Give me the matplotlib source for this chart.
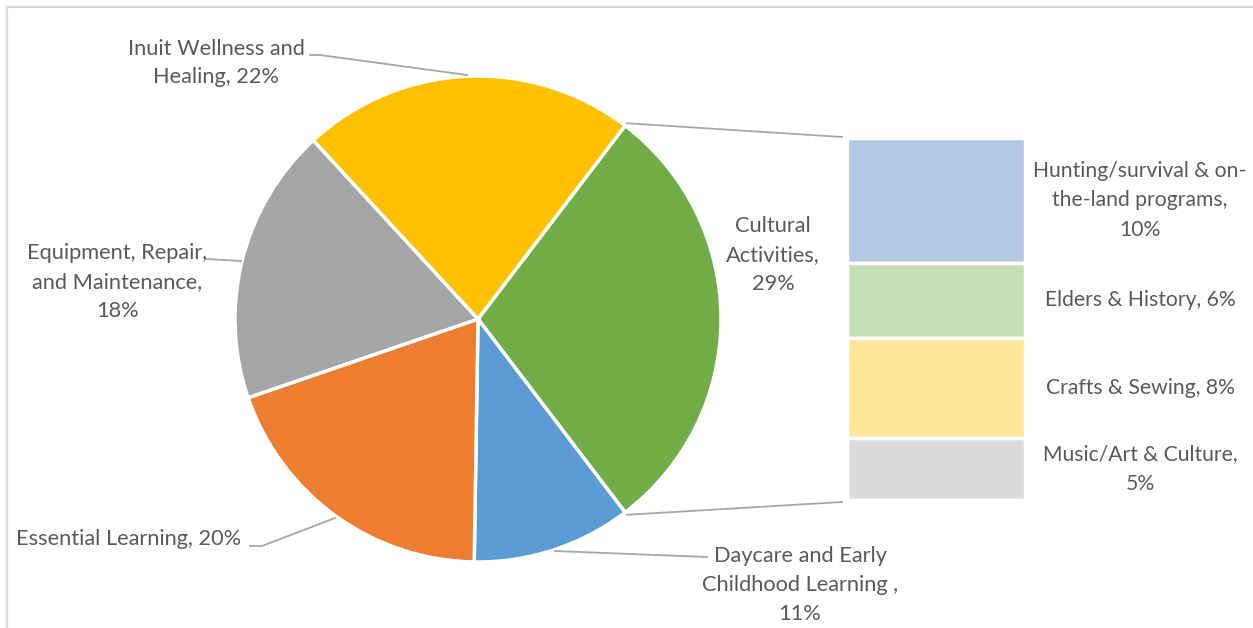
import numpy as np
import matplotlib
matplotlib.use('Agg')
import matplotlib.pyplot as plt

# pie slices (percent)
pie_names = ['Cultural Activities', 'Daycare and Early Childhood Learning ', 'Essential Learning',
             'Equipment, Repair, and Maintenance', 'Inuit Wellness and Healing']
pie_vals = [29.3, 10.6, 19.5, 18.4, 22.2]
pie_colors = ['#70AD47', '#5B9BD5', '#ED7D31', '#A5A5A5', '#FFC000']

# breakdown of Cultural Activities
bar_names = ['Hunting/survival & on-the-land programs', 'Elders & History', 'Crafts & Sewing', 'Music/Art & Culture']
bar_vals = [10, 6, 8, 5]
bar_colors = ['#B4C7E7', '#C5E0B4', '#FFE699', '#DBDBDB']

W, H = 1253, 628
plt.rcParams['font.family'] = ['Lato', 'DejaVu Sans']
txtc = '#595959'
linec = '#A6A6A6'

def Y(y):
    return H - y

fig = plt.figure(figsize=(W/100, H/100), dpi=100)
ax = fig.add_axes([0, 0, 1, 1])

cx, cy, r = 478, Y(319), 243
start = 360 * pie_vals[0] / sum(pie_vals) / 2
ax.pie(pie_vals, colors=pie_colors, startangle=start, counterclock=False,
       center=(cx, cy), radius=r,
       wedgeprops=dict(edgecolor='white', linewidth=2.5))
ax.set_xlim(0, W)
ax.set_ylim(0, H)
ax.set_aspect('auto')
ax.axis('off')

# frame
ax.plot([6.5, 6.5, W], [0, Y(7), Y(7)], color='#D9D9D9', lw=1.6, solid_capstyle='butt')

fs = 15.7
ls = 1.55
# pie labels
ax.text(216, Y(63), 'Inuit Wellness and\nHealing, 22%', ha='center', va='center',
        fontsize=fs, color=txtc, linespacing=ls)
ax.plot([310, 320, 467], [Y(55), Y(55), Y(75)], color=linec, lw=1.3)

ax.text(773, Y(255), 'Cultural\nActivities,\n29%', ha='center', va='center',
        fontsize=fs, color=txtc, linespacing=ls)

ax.text(117, Y(282), 'Equipment, Repair,\nand Maintenance,\n18%', ha='center', va='center',
        fontsize=fs, color=txtc, linespacing=ls)
ax.plot([207, 241], [Y(259), Y(261)], color=linec, lw=1.3)

ax.text(16, Y(539), 'Essential Learning, 20%', ha='left', va='center',
        fontsize=fs, color=txtc)
ax.plot([250, 262, 335], [Y(546), Y(546), Y(518)], color=linec, lw=1.3)

ax.text(800, Y(585), 'Daycare and Early\nChildhood Learning ,\n11%', ha='center', va='center',
        fontsize=fs, color=txtc, linespacing=ls)
ax.plot([555, 707], [Y(551), Y(557)], color=linec, lw=1.3)

# connector lines from the split slice to the bar
bx0, by0, by1 = 847, 138, 500
for a, yb in [(start, by0 - 1), (-start, by1 + 2)]:
    px = cx + (r + 3) * np.cos(np.radians(a))
    py = cy + (r + 3) * np.sin(np.radians(a))
    ax.plot([px, bx0 - 5], [py, Y(yb)], color=linec, lw=1.3)

# stacked bar
bax = fig.add_axes([bx0/W, Y(by1)/H, 178/W, (by1 - by0)/H])
bottoms = np.concatenate([[0], np.cumsum(bar_vals)[:-1]])
bax.bar(0.5, bar_vals, bottom=bottoms, width=1, color=bar_colors,
        edgecolor='white', linewidth=2.5)
bax.set_xlim(0, 1)
bax.set_ylim(sum(bar_vals), 0)
bax.axis('off')

bar_labels = ['Hunting/survival & on-\nthe-land programs,\n10%', 'Elders & History, 6%',
              'Crafts & Sewing, 8%', 'Music/Art & Culture,\n5%']
for b, v, lab in zip(bottoms, bar_vals, bar_labels):
    bax.text((1140 - bx0) / 178, b + v/2, lab, ha='center', va='center', fontsize=15.2,
             color=txtc, linespacing=1.6, clip_on=False)

fig.savefig('out.png', dpi=100)
